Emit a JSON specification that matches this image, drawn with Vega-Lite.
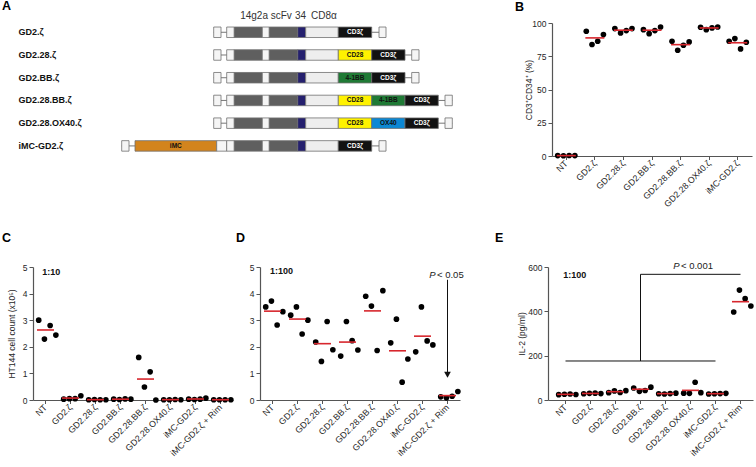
{
"$schema": "https://vega.github.io/schema/vega-lite/v6.json",
"autosize": {"type": "none"},
"padding": {"left": 33, "top": 23, "right": 723, "bottom": 444},
"background": "white",
"bounds": "full",
"spacing": 22,
"config": {
  "font": "Liberation Sans",
  "view": {"stroke": null},
  "title": {"fontSize": 12.5, "fontWeight": "bold", "anchor": "start", "frame": "group", "offset": 0, "color": "#000000", "font": "Liberation Sans"},
  "axis": {"domainColor": "#555555", "domainWidth": 1.2, "tickColor": "#555555", "tickWidth": 1, "tickSize": 4, "labelFont": "Liberation Sans", "labelFontSize": 8.5, "labelColor": "#262626", "labelPadding": 2, "labelOverlap": false, "labelFlush": false, "titleFont": "Liberation Sans", "titleFontSize": 8.5, "titleFontWeight": "normal", "titleColor": "#262626", "grid": false},
  "axisX": {"labelAngle": -45, "labelAlign": "right", "labelBaseline": "middle", "tickSize": 3.5, "labelFontSize": 8.8}
},
"datasets": {
  "segs": [
    {"row": "GD2.ζ", "part": "leader", "start": 180.7, "end": 188},
    {"row": "GD2.ζ", "part": "spacer", "start": 193.7, "end": 201.3},
    {"row": "GD2.ζ", "part": "VL", "start": 201.3, "end": 229.3},
    {"row": "GD2.ζ", "part": "linker", "start": 229.3, "end": 236.3},
    {"row": "GD2.ζ", "part": "VH", "start": 236.3, "end": 264.7},
    {"row": "GD2.ζ", "part": "CD34", "start": 264.7, "end": 272.7},
    {"row": "GD2.ζ", "part": "CD8α", "start": 272.7, "end": 305.3},
    {"row": "GD2.ζ", "part": "CD3ζ", "start": 305.3, "end": 338.7, "mid": 322, "label": "CD3ζ"},
    {"row": "GD2.ζ", "part": "tail", "start": 346, "end": 353},

    {"row": "GD2.28.ζ", "part": "leader", "start": 180.7, "end": 188},
    {"row": "GD2.28.ζ", "part": "spacer", "start": 193.7, "end": 201.3},
    {"row": "GD2.28.ζ", "part": "VL", "start": 201.3, "end": 229.3},
    {"row": "GD2.28.ζ", "part": "linker", "start": 229.3, "end": 236.3},
    {"row": "GD2.28.ζ", "part": "VH", "start": 236.3, "end": 264.7},
    {"row": "GD2.28.ζ", "part": "CD34", "start": 264.7, "end": 272.7},
    {"row": "GD2.28.ζ", "part": "CD8α", "start": 272.7, "end": 305.3},
    {"row": "GD2.28.ζ", "part": "CD28", "start": 305.3, "end": 338.7, "mid": 322, "label": "CD28"},
    {"row": "GD2.28.ζ", "part": "CD3ζ", "start": 338.7, "end": 372, "mid": 355.3, "label": "CD3ζ"},
    {"row": "GD2.28.ζ", "part": "tail", "start": 378.7, "end": 386},

    {"row": "GD2.BB.ζ", "part": "leader", "start": 180.7, "end": 188},
    {"row": "GD2.BB.ζ", "part": "spacer", "start": 193.7, "end": 201.3},
    {"row": "GD2.BB.ζ", "part": "VL", "start": 201.3, "end": 229.3},
    {"row": "GD2.BB.ζ", "part": "linker", "start": 229.3, "end": 236.3},
    {"row": "GD2.BB.ζ", "part": "VH", "start": 236.3, "end": 264.7},
    {"row": "GD2.BB.ζ", "part": "CD34", "start": 264.7, "end": 272.7},
    {"row": "GD2.BB.ζ", "part": "CD8α", "start": 272.7, "end": 305.3},
    {"row": "GD2.BB.ζ", "part": "4-1BB", "start": 305.3, "end": 338.7, "mid": 322, "label": "4-1BB"},
    {"row": "GD2.BB.ζ", "part": "CD3ζ", "start": 338.7, "end": 372, "mid": 355.3, "label": "CD3ζ"},
    {"row": "GD2.BB.ζ", "part": "tail", "start": 378.7, "end": 386},

    {"row": "GD2.28.BB.ζ", "part": "leader", "start": 180.7, "end": 188},
    {"row": "GD2.28.BB.ζ", "part": "spacer", "start": 193.7, "end": 201.3},
    {"row": "GD2.28.BB.ζ", "part": "VL", "start": 201.3, "end": 229.3},
    {"row": "GD2.28.BB.ζ", "part": "linker", "start": 229.3, "end": 236.3},
    {"row": "GD2.28.BB.ζ", "part": "VH", "start": 236.3, "end": 264.7},
    {"row": "GD2.28.BB.ζ", "part": "CD34", "start": 264.7, "end": 272.7},
    {"row": "GD2.28.BB.ζ", "part": "CD8α", "start": 272.7, "end": 305.3},
    {"row": "GD2.28.BB.ζ", "part": "CD28", "start": 305.3, "end": 338.7, "mid": 322, "label": "CD28"},
    {"row": "GD2.28.BB.ζ", "part": "4-1BB", "start": 338.7, "end": 372, "mid": 355.3, "label": "4-1BB"},
    {"row": "GD2.28.BB.ζ", "part": "CD3ζ", "start": 372, "end": 405.3, "mid": 388.7, "label": "CD3ζ"},
    {"row": "GD2.28.BB.ζ", "part": "tail", "start": 412, "end": 419.3},

    {"row": "GD2.28.OX40.ζ", "part": "leader", "start": 180.7, "end": 188},
    {"row": "GD2.28.OX40.ζ", "part": "spacer", "start": 193.7, "end": 201.3},
    {"row": "GD2.28.OX40.ζ", "part": "VL", "start": 201.3, "end": 229.3},
    {"row": "GD2.28.OX40.ζ", "part": "linker", "start": 229.3, "end": 236.3},
    {"row": "GD2.28.OX40.ζ", "part": "VH", "start": 236.3, "end": 264.7},
    {"row": "GD2.28.OX40.ζ", "part": "CD34", "start": 264.7, "end": 272.7},
    {"row": "GD2.28.OX40.ζ", "part": "CD8α", "start": 272.7, "end": 305.3},
    {"row": "GD2.28.OX40.ζ", "part": "CD28", "start": 305.3, "end": 338.7, "mid": 322, "label": "CD28"},
    {"row": "GD2.28.OX40.ζ", "part": "OX40", "start": 338.7, "end": 372, "mid": 355.3, "label": "OX40"},
    {"row": "GD2.28.OX40.ζ", "part": "CD3ζ", "start": 372, "end": 405.3, "mid": 388.7, "label": "CD3ζ"},
    {"row": "GD2.28.OX40.ζ", "part": "tail", "start": 412, "end": 419.3},

    {"row": "iMC-GD2.ζ", "part": "leader", "start": 88.7, "end": 96},
    {"row": "iMC-GD2.ζ", "part": "iMC", "start": 102, "end": 183.7, "mid": 142.8, "label": "iMC"},
    {"row": "iMC-GD2.ζ", "part": "hinge", "start": 183.7, "end": 193.7},
    {"row": "iMC-GD2.ζ", "part": "spacer", "start": 193.7, "end": 201.3},
    {"row": "iMC-GD2.ζ", "part": "VL", "start": 201.3, "end": 229.3},
    {"row": "iMC-GD2.ζ", "part": "linker", "start": 229.3, "end": 236.3},
    {"row": "iMC-GD2.ζ", "part": "VH", "start": 236.3, "end": 264.7},
    {"row": "iMC-GD2.ζ", "part": "CD34", "start": 264.7, "end": 272.7},
    {"row": "iMC-GD2.ζ", "part": "CD8α", "start": 272.7, "end": 305.3},
    {"row": "iMC-GD2.ζ", "part": "CD3ζ", "start": 305.3, "end": 338.7, "mid": 322, "label": "CD3ζ"},
    {"row": "iMC-GD2.ζ", "part": "tail", "start": 346, "end": 353}
  ],
  "links": [
    {"row": "GD2.ζ", "start": 180.7, "end": 353},
    {"row": "GD2.28.ζ", "start": 180.7, "end": 386},
    {"row": "GD2.BB.ζ", "start": 180.7, "end": 386},
    {"row": "GD2.28.BB.ζ", "start": 180.7, "end": 419.3},
    {"row": "GD2.28.OX40.ζ", "start": 180.7, "end": 419.3},
    {"row": "iMC-GD2.ζ", "start": 88.7, "end": 353}
  ],
  "hdr": [
    {"row": "GD2.ζ", "pos": 233, "label": "14g2a scFv"},
    {"row": "GD2.ζ", "pos": 267.5, "label": "34"},
    {"row": "GD2.ζ", "pos": 291, "label": "CD8α"}
  ],
  "b": [
    {"g": "NT", "d": "D1", "v": 0.3}, {"g": "NT", "d": "D2", "v": 0.2}, {"g": "NT", "d": "D3", "v": 0.4}, {"g": "NT", "d": "D4", "v": 0.3},
    {"g": "GD2.ζ", "d": "D1", "v": 93.8}, {"g": "GD2.ζ", "d": "D2", "v": 83.8}, {"g": "GD2.ζ", "d": "D3", "v": 86.3}, {"g": "GD2.ζ", "d": "D4", "v": 91.3},
    {"g": "GD2.28.ζ", "d": "D1", "v": 95.8}, {"g": "GD2.28.ζ", "d": "D2", "v": 92.5}, {"g": "GD2.28.ζ", "d": "D3", "v": 94.3}, {"g": "GD2.28.ζ", "d": "D4", "v": 95.8},
    {"g": "GD2.BB.ζ", "d": "D1", "v": 95.0}, {"g": "GD2.BB.ζ", "d": "D2", "v": 92.0}, {"g": "GD2.BB.ζ", "d": "D3", "v": 94.3}, {"g": "GD2.BB.ζ", "d": "D4", "v": 97.0},
    {"g": "GD2.28.BB.ζ", "d": "D1", "v": 86.3}, {"g": "GD2.28.BB.ζ", "d": "D2", "v": 79.5}, {"g": "GD2.28.BB.ζ", "d": "D3", "v": 83.3}, {"g": "GD2.28.BB.ζ", "d": "D4", "v": 85.8},
    {"g": "GD2.28.OX40.ζ", "d": "D1", "v": 96.8}, {"g": "GD2.28.OX40.ζ", "d": "D2", "v": 95.0}, {"g": "GD2.28.OX40.ζ", "d": "D3", "v": 96.3}, {"g": "GD2.28.OX40.ζ", "d": "D4", "v": 97.0},
    {"g": "iMC-GD2.ζ", "d": "D1", "v": 86.3}, {"g": "iMC-GD2.ζ", "d": "D2", "v": 88.3}, {"g": "iMC-GD2.ζ", "d": "D3", "v": 80.5}, {"g": "iMC-GD2.ζ", "d": "D4", "v": 85.5}
  ],
  "c": [
    {"g": "NT", "d": "D1", "v": 3.0}, {"g": "NT", "d": "D2", "v": 2.29}, {"g": "NT", "d": "D3", "v": 2.8}, {"g": "NT", "d": "D4", "v": 2.44},
    {"g": "GD2.ζ", "d": "D1", "v": 0.03}, {"g": "GD2.ζ", "d": "D2", "v": 0.05}, {"g": "GD2.ζ", "d": "D3", "v": 0.05}, {"g": "GD2.ζ", "d": "D4", "v": 0.16},
    {"g": "GD2.28.ζ", "d": "D1", "v": 0.01}, {"g": "GD2.28.ζ", "d": "D2", "v": 0.02}, {"g": "GD2.28.ζ", "d": "D3", "v": 0.01}, {"g": "GD2.28.ζ", "d": "D4", "v": 0.01},
    {"g": "GD2.BB.ζ", "d": "D1", "v": 0.03}, {"g": "GD2.BB.ζ", "d": "D2", "v": 0.02}, {"g": "GD2.BB.ζ", "d": "D3", "v": 0.04}, {"g": "GD2.BB.ζ", "d": "D4", "v": 0.03},
    {"g": "GD2.28.BB.ζ", "d": "D1", "v": 1.6}, {"g": "GD2.28.BB.ζ", "d": "D2", "v": 0.49}, {"g": "GD2.28.BB.ζ", "d": "D3", "v": 1.06}, {"g": "GD2.28.BB.ζ", "d": "D4", "v": 0.0},
    {"g": "GD2.28.OX40.ζ", "d": "D1", "v": 0.01}, {"g": "GD2.28.OX40.ζ", "d": "D2", "v": 0.01}, {"g": "GD2.28.OX40.ζ", "d": "D3", "v": 0.02}, {"g": "GD2.28.OX40.ζ", "d": "D4", "v": 0.01},
    {"g": "iMC-GD2.ζ", "d": "D1", "v": 0.03}, {"g": "iMC-GD2.ζ", "d": "D2", "v": 0.02}, {"g": "iMC-GD2.ζ", "d": "D3", "v": 0.03}, {"g": "iMC-GD2.ζ", "d": "D4", "v": 0.07},
    {"g": "iMC-GD2.ζ + Rim", "d": "D1", "v": 0.01}, {"g": "iMC-GD2.ζ + Rim", "d": "D2", "v": 0.01}, {"g": "iMC-GD2.ζ + Rim", "d": "D3", "v": 0.01}, {"g": "iMC-GD2.ζ + Rim", "d": "D4", "v": 0.01}
  ],
  "d": [
    {"g": "NT", "d": "D1", "v": 3.50}, {"g": "NT", "d": "D2", "v": 3.72}, {"g": "NT", "d": "D3", "v": 2.82}, {"g": "NT", "d": "D4", "v": 3.32},
    {"g": "GD2.ζ", "d": "D1", "v": 3.19}, {"g": "GD2.ζ", "d": "D2", "v": 3.50}, {"g": "GD2.ζ", "d": "D3", "v": 2.48}, {"g": "GD2.ζ", "d": "D4", "v": 3.0},
    {"g": "GD2.28.ζ", "d": "D1", "v": 2.18}, {"g": "GD2.28.ζ", "d": "D2", "v": 1.45}, {"g": "GD2.28.ζ", "d": "D3", "v": 2.95}, {"g": "GD2.28.ζ", "d": "D4", "v": 1.89},
    {"g": "GD2.BB.ζ", "d": "D1", "v": 1.65}, {"g": "GD2.BB.ζ", "d": "D2", "v": 2.95}, {"g": "GD2.BB.ζ", "d": "D3", "v": 2.23}, {"g": "GD2.BB.ζ", "d": "D4", "v": 1.88},
    {"g": "GD2.28.BB.ζ", "d": "D1", "v": 3.90}, {"g": "GD2.28.BB.ζ", "d": "D2", "v": 3.53}, {"g": "GD2.28.BB.ζ", "d": "D3", "v": 1.86}, {"g": "GD2.28.BB.ζ", "d": "D4", "v": 4.11},
    {"g": "GD2.28.OX40.ζ", "d": "D1", "v": 2.15}, {"g": "GD2.28.OX40.ζ", "d": "D2", "v": 3.04}, {"g": "GD2.28.OX40.ζ", "d": "D3", "v": 0.67}, {"g": "GD2.28.OX40.ζ", "d": "D4", "v": 1.54},
    {"g": "iMC-GD2.ζ", "d": "D1", "v": 1.81}, {"g": "iMC-GD2.ζ", "d": "D2", "v": 3.50}, {"g": "iMC-GD2.ζ", "d": "D3", "v": 2.22}, {"g": "iMC-GD2.ζ", "d": "D4", "v": 2.07},
    {"g": "iMC-GD2.ζ + Rim", "d": "D1", "v": 0.12}, {"g": "iMC-GD2.ζ + Rim", "d": "D2", "v": 0.08}, {"g": "iMC-GD2.ζ + Rim", "d": "D3", "v": 0.14}, {"g": "iMC-GD2.ζ + Rim", "d": "D4", "v": 0.32}
  ],
  "e": [
    {"g": "NT", "d": "D1", "v": 24}, {"g": "NT", "d": "D2", "v": 26}, {"g": "NT", "d": "D3", "v": 27}, {"g": "NT", "d": "D4", "v": 25},
    {"g": "GD2.ζ", "d": "D1", "v": 28}, {"g": "GD2.ζ", "d": "D2", "v": 30}, {"g": "GD2.ζ", "d": "D3", "v": 31}, {"g": "GD2.ζ", "d": "D4", "v": 29},
    {"g": "GD2.28.ζ", "d": "D1", "v": 33}, {"g": "GD2.28.ζ", "d": "D2", "v": 41}, {"g": "GD2.28.ζ", "d": "D3", "v": 34}, {"g": "GD2.28.ζ", "d": "D4", "v": 42},
    {"g": "GD2.BB.ζ", "d": "D1", "v": 54}, {"g": "GD2.BB.ζ", "d": "D2", "v": 39}, {"g": "GD2.BB.ζ", "d": "D3", "v": 43}, {"g": "GD2.BB.ζ", "d": "D4", "v": 58},
    {"g": "GD2.28.BB.ζ", "d": "D1", "v": 28}, {"g": "GD2.28.BB.ζ", "d": "D2", "v": 27}, {"g": "GD2.28.BB.ζ", "d": "D3", "v": 29}, {"g": "GD2.28.BB.ζ", "d": "D4", "v": 31},
    {"g": "GD2.28.OX40.ζ", "d": "D1", "v": 31}, {"g": "GD2.28.OX40.ζ", "d": "D2", "v": 30}, {"g": "GD2.28.OX40.ζ", "d": "D3", "v": 80}, {"g": "GD2.28.OX40.ζ", "d": "D4", "v": 33},
    {"g": "iMC-GD2.ζ", "d": "D1", "v": 27}, {"g": "iMC-GD2.ζ", "d": "D2", "v": 28}, {"g": "iMC-GD2.ζ", "d": "D3", "v": 29}, {"g": "iMC-GD2.ζ", "d": "D4", "v": 30},
    {"g": "iMC-GD2.ζ + Rim", "d": "D1", "v": 397}, {"g": "iMC-GD2.ζ + Rim", "d": "D2", "v": 496}, {"g": "iMC-GD2.ζ + Rim", "d": "D3", "v": 457}, {"g": "iMC-GD2.ζ + Rim", "d": "D4", "v": 424}
  ]
},
"vconcat": [
  {
    "hconcat": [
      {
        "width": 436, "height": 138,
        "title": {"text": "A", "dx": -31, "dy": 5},
        "layer": [
          {"data": {"name": "links"}, "mark": {"type": "rule", "color": "#555555", "strokeWidth": 0.8},
           "encoding": {
             "x": {"field": "start", "type": "quantitative", "scale": {"domain": [0, 436], "nice": false, "zero": false}, "axis": null},
             "x2": {"field": "end"},
             "y": {"field": "row", "type": "nominal", "title": null,
                   "scale": {"type": "band", "domain": ["GD2.ζ", "GD2.28.ζ", "GD2.BB.ζ", "GD2.28.BB.ζ", "GD2.28.OX40.ζ", "iMC-GD2.ζ"], "paddingInner": 0.538, "paddingOuter": 0.305, "align": 0.29},
                   "axis": {"domain": false, "ticks": false, "tickSize": 0, "labelAlign": "left", "labelPadding": 15, "labelFontWeight": "bold", "labelFontSize": 9, "labelColor": "#111111"}}
           }},
          {"data": {"name": "segs"}, "mark": {"type": "rect", "stroke": "#707070", "strokeWidth": 0.8},
           "encoding": {
             "x": {"field": "start", "type": "quantitative"},
             "x2": {"field": "end"},
             "y": {"field": "row", "type": "nominal", "title": null},
             "fill": {"field": "part", "type": "nominal", "legend": null,
                      "scale": {"domain": ["leader", "spacer", "VL", "linker", "VH", "CD34", "CD8α", "CD28", "4-1BB", "OX40", "CD3ζ", "iMC", "hinge", "tail"],
                                "range": ["#f5f5f5", "#f5f5f5", "#5f5f5f", "#f5f5f5", "#5f5f5f", "#25206e", "#eeeeee", "#fff200", "#1f7a35", "#0c88d4", "#121212", "#d3841d", "#f5f5f5", "#f5f5f5"]}}
           }},
          {"data": {"name": "segs"}, "transform": [{"filter": "datum.label != null"}],
           "mark": {"type": "text", "fontWeight": "bold", "fontSize": 6.5, "align": "center", "baseline": "middle"},
           "encoding": {
             "x": {"field": "mid", "type": "quantitative"},
             "y": {"field": "row", "type": "nominal", "title": null},
             "text": {"field": "label"},
             "color": {"condition": {"test": "datum.part === 'CD3ζ'", "value": "#ffffff"}, "value": "#111111"}
           }},
          {"data": {"name": "hdr"}, "mark": {"type": "text", "fontSize": 10, "dy": -16, "align": "center", "baseline": "middle", "color": "#333333"},
           "encoding": {
             "x": {"field": "pos", "type": "quantitative"},
             "y": {"field": "row", "type": "nominal", "title": null},
             "text": {"field": "label"}
           }}
        ]
      },
      {
        "width": 200, "height": 133,
        "title": {"text": "B", "dx": -37, "dy": -2},
        "data": {"name": "b"},
        "layer": [
          {"mark": {"type": "circle", "size": 32, "color": "#000000", "opacity": 1},
           "encoding": {
             "x": {"field": "g", "type": "nominal", "title": null,
                   "scale": {"type": "band", "domain": ["NT", "GD2.ζ", "GD2.28.ζ", "GD2.BB.ζ", "GD2.28.BB.ζ", "GD2.28.OX40.ζ", "iMC-GD2.ζ"], "paddingInner": 0, "paddingOuter": 0}},
             "xOffset": {"field": "d", "type": "nominal", "scale": {"type": "point", "padding": 3.26}},
             "y": {"field": "v", "type": "quantitative", "title": "CD3⁺CD34⁺ (%)", "scale": {"domain": [0, 100], "nice": false},
                   "axis": {"values": [0, 25, 50, 75, 100], "tickCount": 10, "format": "d", "labelOverlap": false, "titlePadding": -2}}
           }},
          {"mark": {"type": "tick", "color": "#d7262d", "thickness": 1.6, "size": 19},
           "encoding": {
             "x": {"field": "g", "type": "nominal", "title": null},
             "y": {"field": "v", "type": "quantitative", "aggregate": "mean", "title": "CD3⁺CD34⁺ (%)", "axis": {"values": [0, 25, 50, 75, 100], "tickCount": 10, "format": "d", "labelOverlap": false, "titlePadding": -2}}
           }}
        ]
      }
    ],
    "bounds": "flush",
    "spacing": 83
  },
  {
    "hconcat": [
      {
        "width": 200, "height": 133,
        "title": {"text": "C", "dx": -31, "dy": -14.5},
        "layer": [
          {"data": {"name": "c"}, "mark": {"type": "circle", "size": 32, "color": "#000000", "opacity": 1},
           "encoding": {
             "x": {"field": "g", "type": "nominal", "title": null,
                   "scale": {"type": "band", "domain": ["NT", "GD2.ζ", "GD2.28.ζ", "GD2.BB.ζ", "GD2.28.BB.ζ", "GD2.28.OX40.ζ", "iMC-GD2.ζ", "iMC-GD2.ζ + Rim"], "paddingInner": 0, "paddingOuter": 0}},
             "xOffset": {"field": "d", "type": "nominal", "scale": {"type": "point", "padding": 2.67}},
             "y": {"field": "v", "type": "quantitative", "title": "HT144 cell count (x10⁵)", "scale": {"domain": [0, 5], "nice": false},
                   "axis": {"values": [0, 1, 2, 3, 4, 5], "tickCount": 10, "format": "d", "labelOverlap": false, "titlePadding": 5.5}}
           }},
          {"data": {"name": "c"}, "mark": {"type": "tick", "color": "#d7262d", "thickness": 1.6, "size": 17},
           "encoding": {
             "x": {"field": "g", "type": "nominal", "title": null},
             "y": {"field": "v", "type": "quantitative", "aggregate": "mean", "title": "HT144 cell count (x10⁵)", "axis": {"values": [0, 1, 2, 3, 4, 5], "tickCount": 10, "format": "d", "labelOverlap": false, "titlePadding": 5.5}}
           }},
          {"data": {"values": [{"g": "NT", "v": 4.8, "t": "1:10"}]},
           "mark": {"type": "text", "fontWeight": "bold", "fontSize": 9, "align": "left", "baseline": "middle", "color": "#111111"},
           "encoding": {
             "x": {"field": "g", "type": "nominal", "bandPosition": 0.37, "title": null},
             "y": {"field": "v", "type": "quantitative", "title": "HT144 cell count (x10⁵)", "axis": {"values": [0, 1, 2, 3, 4, 5], "tickCount": 10, "format": "d", "labelOverlap": false, "titlePadding": 5.5}},
             "text": {"field": "t"}
           }}
        ]
      },
      {
        "width": 200, "height": 133,
        "title": {"text": "D", "dx": -24, "dy": -14.5},
        "layer": [
          {"data": {"name": "d"}, "mark": {"type": "circle", "size": 32, "color": "#000000", "opacity": 1},
           "encoding": {
             "x": {"field": "g", "type": "nominal", "title": null,
                   "scale": {"type": "band", "domain": ["NT", "GD2.ζ", "GD2.28.ζ", "GD2.BB.ζ", "GD2.28.BB.ζ", "GD2.28.OX40.ζ", "iMC-GD2.ζ", "iMC-GD2.ζ + Rim"], "paddingInner": 0, "paddingOuter": 0}},
             "xOffset": {"field": "d", "type": "nominal", "scale": {"type": "point", "padding": 2.67}},
             "y": {"field": "v", "type": "quantitative", "title": null, "scale": {"domain": [0, 5], "nice": false},
                   "axis": {"values": [0, 1, 2, 3, 4, 5], "tickCount": 10, "format": "d", "labelOverlap": false}}
           }},
          {"data": {"name": "d"}, "mark": {"type": "tick", "color": "#d7262d", "thickness": 1.6, "size": 17},
           "encoding": {
             "x": {"field": "g", "type": "nominal", "title": null},
             "y": {"field": "v", "type": "quantitative", "aggregate": "mean", "title": null, "axis": {"values": [0, 1, 2, 3, 4, 5], "tickCount": 10, "format": "d", "labelOverlap": false}}
           }},
          {"data": {"values": [{"g": "NT", "v": 4.85, "t": "1:100"}]},
           "mark": {"type": "text", "fontWeight": "bold", "fontSize": 9, "align": "left", "baseline": "middle", "color": "#111111"},
           "encoding": {
             "x": {"field": "g", "type": "nominal", "bandPosition": 0.4, "title": null},
             "y": {"field": "v", "type": "quantitative", "title": null, "axis": {"values": [0, 1, 2, 3, 4, 5], "tickCount": 10, "format": "d", "labelOverlap": false}},
             "text": {"field": "t"}
           }},
          {"data": {"values": [{"g": "iMC-GD2.ζ + Rim", "v": 4.52, "v2": 1.0}]},
           "mark": {"type": "rule", "color": "#111111", "strokeWidth": 1},
           "encoding": {
             "x": {"field": "g", "type": "nominal", "title": null},
             "y": {"field": "v", "type": "quantitative", "title": null, "axis": {"values": [0, 1, 2, 3, 4, 5], "tickCount": 10, "format": "d", "labelOverlap": false}},
             "y2": {"field": "v2"}
           }},
          {"data": {"values": [{"g": "iMC-GD2.ζ + Rim", "v": 0.95}]},
           "mark": {"type": "point", "shape": "triangle-down", "filled": true, "size": 45, "color": "#111111", "opacity": 1},
           "encoding": {
             "x": {"field": "g", "type": "nominal", "title": null},
             "y": {"field": "v", "type": "quantitative", "title": null, "axis": {"values": [0, 1, 2, 3, 4, 5], "tickCount": 10, "format": "d", "labelOverlap": false}}
           }},
          {"data": {"values": [{"g": "iMC-GD2.ζ + Rim", "v": 4.7, "t": "P"}]},
           "mark": {"type": "text", "fontStyle": "italic", "fontSize": 9.5, "align": "right", "baseline": "middle", "dx": -12, "color": "#222222"},
           "encoding": {
             "x": {"field": "g", "type": "nominal", "title": null},
             "y": {"field": "v", "type": "quantitative", "title": null, "axis": {"values": [0, 1, 2, 3, 4, 5], "tickCount": 10, "format": "d", "labelOverlap": false}},
             "text": {"field": "t"}
           }},
          {"data": {"values": [{"g": "iMC-GD2.ζ + Rim", "v": 4.7, "t": "< 0.05"}]},
           "mark": {"type": "text", "fontSize": 9.5, "align": "left", "baseline": "middle", "dx": -10.5, "color": "#222222"},
           "encoding": {
             "x": {"field": "g", "type": "nominal", "title": null},
             "y": {"field": "v", "type": "quantitative", "title": null, "axis": {"values": [0, 1, 2, 3, 4, 5], "tickCount": 10, "format": "d", "labelOverlap": false}},
             "text": {"field": "t"}
           }}
        ]
      },
      {"width": 34, "height": 133, "data": {"values": []}, "mark": {"type": "point", "opacity": 0}, "encoding": {}},
      {
        "width": 205, "height": 133,
        "title": {"text": "E", "dx": -53, "dy": -13},
        "layer": [
          {"data": {"name": "e"}, "mark": {"type": "circle", "size": 32, "color": "#000000", "opacity": 1},
           "encoding": {
             "x": {"field": "g", "type": "nominal", "title": null,
                   "scale": {"type": "band", "domain": ["NT", "GD2.ζ", "GD2.28.ζ", "GD2.BB.ζ", "GD2.28.BB.ζ", "GD2.28.OX40.ζ", "iMC-GD2.ζ", "iMC-GD2.ζ + Rim"], "paddingInner": 0, "paddingOuter": 0.1, "align": 1}},
             "xOffset": {"field": "d", "type": "nominal", "scale": {"type": "point", "padding": 2.67}},
             "y": {"field": "v", "type": "quantitative", "title": "IL-2 (pg/ml)", "scale": {"domain": [0, 600], "nice": false},
                   "axis": {"values": [0, 200, 400, 600], "tickCount": 10, "format": "d", "labelOverlap": false, "titlePadding": 1}}
           }},
          {"data": {"name": "e"}, "mark": {"type": "tick", "color": "#d7262d", "thickness": 1.6, "size": 17},
           "encoding": {
             "x": {"field": "g", "type": "nominal", "title": null},
             "y": {"field": "v", "type": "quantitative", "aggregate": "mean", "title": "IL-2 (pg/ml)", "axis": {"values": [0, 200, 400, 600], "tickCount": 10, "format": "d", "labelOverlap": false, "titlePadding": 1}}
           }},
          {"data": {"values": [{"g": "NT", "v": 564, "t": "1:100"}]},
           "mark": {"type": "text", "fontWeight": "bold", "fontSize": 9, "align": "left", "baseline": "middle", "color": "#111111"},
           "encoding": {
             "x": {"field": "g", "type": "nominal", "bandPosition": 0.41, "title": null},
             "y": {"field": "v", "type": "quantitative", "title": "IL-2 (pg/ml)", "axis": {"values": [0, 200, 400, 600], "tickCount": 10, "format": "d", "labelOverlap": false, "titlePadding": 1}},
             "text": {"field": "t"}
           }},
          {"data": {"values": [
              {"xa": "NT", "xb": "iMC-GD2.ζ", "ya": 176, "yb": 176},
              {"xa": "GD2.BB.ζ", "xb": "GD2.BB.ζ", "ya": 176, "yb": 567},
              {"xa": "GD2.BB.ζ", "xb": "iMC-GD2.ζ + Rim", "ya": 567, "yb": 567}
            ]},
           "mark": {"type": "rule", "color": "#111111", "strokeWidth": 1},
           "encoding": {
             "x": {"field": "xa", "type": "nominal", "title": null},
             "x2": {"field": "xb"},
             "y": {"field": "ya", "type": "quantitative", "title": "IL-2 (pg/ml)", "axis": {"values": [0, 200, 400, 600], "tickCount": 10, "format": "d", "labelOverlap": false, "titlePadding": 1}},
             "y2": {"field": "yb"}
           }},
          {"data": {"values": [{"g": "GD2.28.OX40.ζ", "v": 603, "t": "P"}]},
           "mark": {"type": "text", "fontStyle": "italic", "fontSize": 9.5, "align": "right", "baseline": "middle", "dx": -11, "color": "#222222"},
           "encoding": {
             "x": {"field": "g", "type": "nominal", "title": null},
             "y": {"field": "v", "type": "quantitative", "title": "IL-2 (pg/ml)", "axis": {"values": [0, 200, 400, 600], "tickCount": 10, "format": "d", "labelOverlap": false, "titlePadding": 1}},
             "text": {"field": "t"}
           }},
          {"data": {"values": [{"g": "GD2.28.OX40.ζ", "v": 603, "t": "< 0.001"}]},
           "mark": {"type": "text", "fontSize": 9.5, "align": "left", "baseline": "middle", "dx": -9.5, "color": "#222222"},
           "encoding": {
             "x": {"field": "g", "type": "nominal", "title": null},
             "y": {"field": "v", "type": "quantitative", "title": "IL-2 (pg/ml)", "axis": {"values": [0, 200, 400, 600], "tickCount": 10, "format": "d", "labelOverlap": false, "titlePadding": 1}},
             "text": {"field": "t"}
           }}
        ]
      }
    ],
    "bounds": "flush",
    "spacing": 27
  }
]
}
